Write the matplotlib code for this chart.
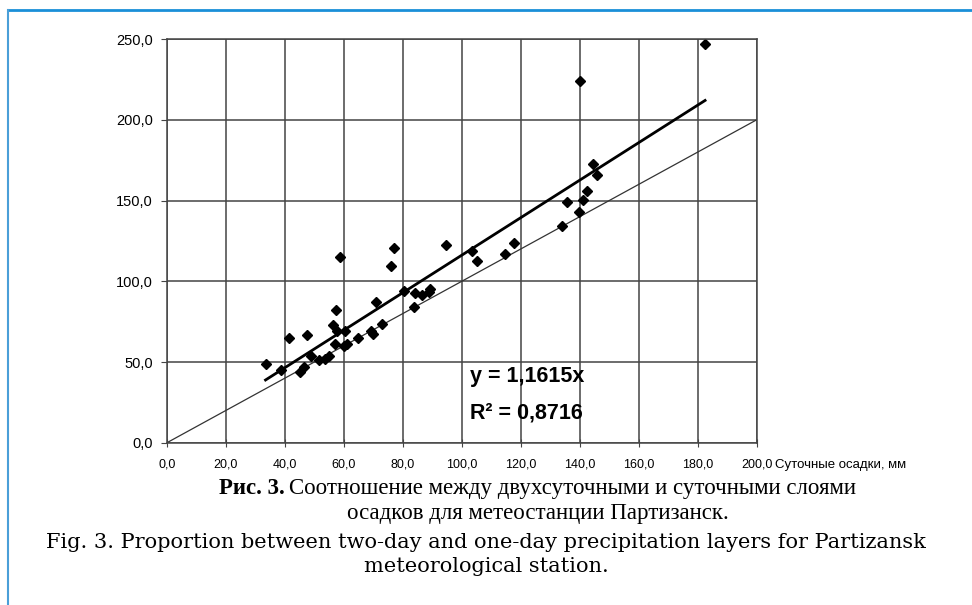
import matplotlib.pyplot as plt
import numpy as np

# суточные осадки (ось X) и двухсуточные осадки (ось Y), мм
one_day = [33.5, 38.8, 41.5, 47.7, 45.3, 46.5, 48.9, 51.7, 53.7, 55.1,
           56.3, 57.5, 57.8, 57.1, 58.8, 60.4, 61.0, 60.2, 65.0, 69.2,
           70.0, 70.8, 72.9, 76.2, 77.1, 80.6, 84.0, 84.3, 86.4, 89.3,
           89.0, 94.6, 103.6, 105.3, 114.8, 117.6, 134.0, 135.7, 139.9, 141.2,
           142.6, 144.4, 146.0, 140.1, 182.5]
two_day = [49.0, 45.0, 64.8, 66.8, 44.0, 47.0, 54.0, 51.0, 51.9, 53.5,
           72.9, 82.4, 69.1, 61.3, 114.8, 69.1, 61.5, 60.0, 65.0, 69.1,
           67.5, 87.4, 73.3, 109.2, 120.9, 94.0, 84.3, 93.0, 91.3, 95.5,
           93.5, 122.2, 118.6, 112.7, 116.9, 123.6, 134.1, 148.8, 142.8, 150.1,
           155.7, 172.5, 165.6, 224.0, 247.0]
slope = 1.1615
r2 = 0.8716
x_ticks = [0, 20, 40, 60, 80, 100, 120, 140, 160, 180, 200]
y_ticks = [0, 50, 100, 150, 200, 250]

def comma(v, fmt='.1f'):
    return format(v, fmt).replace('.', ',')

W, H = 972, 605
fig = plt.figure(figsize=(W / 100, H / 100), dpi=100)
ax = fig.add_axes([0.1715, 0.268, 0.607, 0.6675])

ax.set_xlim(0, 200)
ax.set_ylim(0, 250)
ax.set_xticks(x_ticks)
ax.set_yticks(y_ticks)
ax.set_xticklabels([comma(v) for v in x_ticks], fontsize=9, family='Liberation Sans')
ax.set_yticklabels([comma(v) for v in y_ticks], fontsize=10.5, family='Liberation Sans')
ax.grid(True, color='#444444', linewidth=1.1)
ax.set_axisbelow(True)
for s in ax.spines.values():
    s.set_color('#444444')
    s.set_linewidth(1.1)
ax.tick_params(axis='x', direction='inout', length=6, color='#444444', pad=8)
ax.tick_params(axis='y', direction='out', length=4, color='#444444', pad=6)

# линия y = x
ax.plot([0, 200], [0, 200], color='#333333', linewidth=0.9)
# линия тренда
xs = np.array([min(one_day), max(one_day)])
ax.plot(xs, slope * xs, color='black', linewidth=2)
ax.plot(one_day, two_day, linestyle='none', marker='D', markersize=5, color='black')

ax.text(102.8, 41, 'y = ' + comma(slope, '.4f') + 'x', fontsize=15.5,
        fontweight='bold', family='Liberation Sans', va='center')
ax.text(102.8, 18.5, 'R² = ' + comma(r2, '.4f'), fontsize=15.5,
        fontweight='bold', family='Liberation Sans', va='center')
fig.text(0.797, 0.232, 'Суточные осадки, мм', fontsize=9.5, family='Liberation Sans', va='center')

# подпись рисунка
renderer = fig.canvas.get_renderer()
cap_ru = 16.5
t1 = fig.text(0, 0.193, 'Рис. 3.', fontsize=cap_ru, fontweight='bold',
              family='Liberation Serif', va='center')
t2 = fig.text(0, 0.193, 'Соотношение между двухсуточными и суточными слоями',
              fontsize=cap_ru, family='Liberation Serif', va='center')
w1 = t1.get_window_extent(renderer).width
w2 = t2.get_window_extent(renderer).width
gap = cap_ru * 0.3
left = 0.553 * W - (w1 + gap + w2) / 2
t1.set_x(left / W)
t2.set_x((left + w1 + gap) / W)
fig.text(0.553, 0.152, 'осадков для метеостанции Партизанск.',
         fontsize=cap_ru, family='Liberation Serif', ha='center', va='center')
fig.text(0.5, 0.104, 'Fig. 3. Proportion between two-day and one-day precipitation layers for Partizansk',
         fontsize=15, family='DejaVu Serif', ha='center', va='center')
fig.text(0.5, 0.063, 'meteorological station.',
         fontsize=15, family='DejaVu Serif', ha='center', va='center')

# синяя рамка
fig.add_artist(plt.Line2D([0.0085, 1.0], [0.983, 0.983], color='#1a8fd8', linewidth=2))
fig.add_artist(plt.Line2D([0.0085, 0.0085], [0.0, 0.983], color='#4a9fd8', linewidth=1.5))

fig.savefig('out.png', dpi=100)
